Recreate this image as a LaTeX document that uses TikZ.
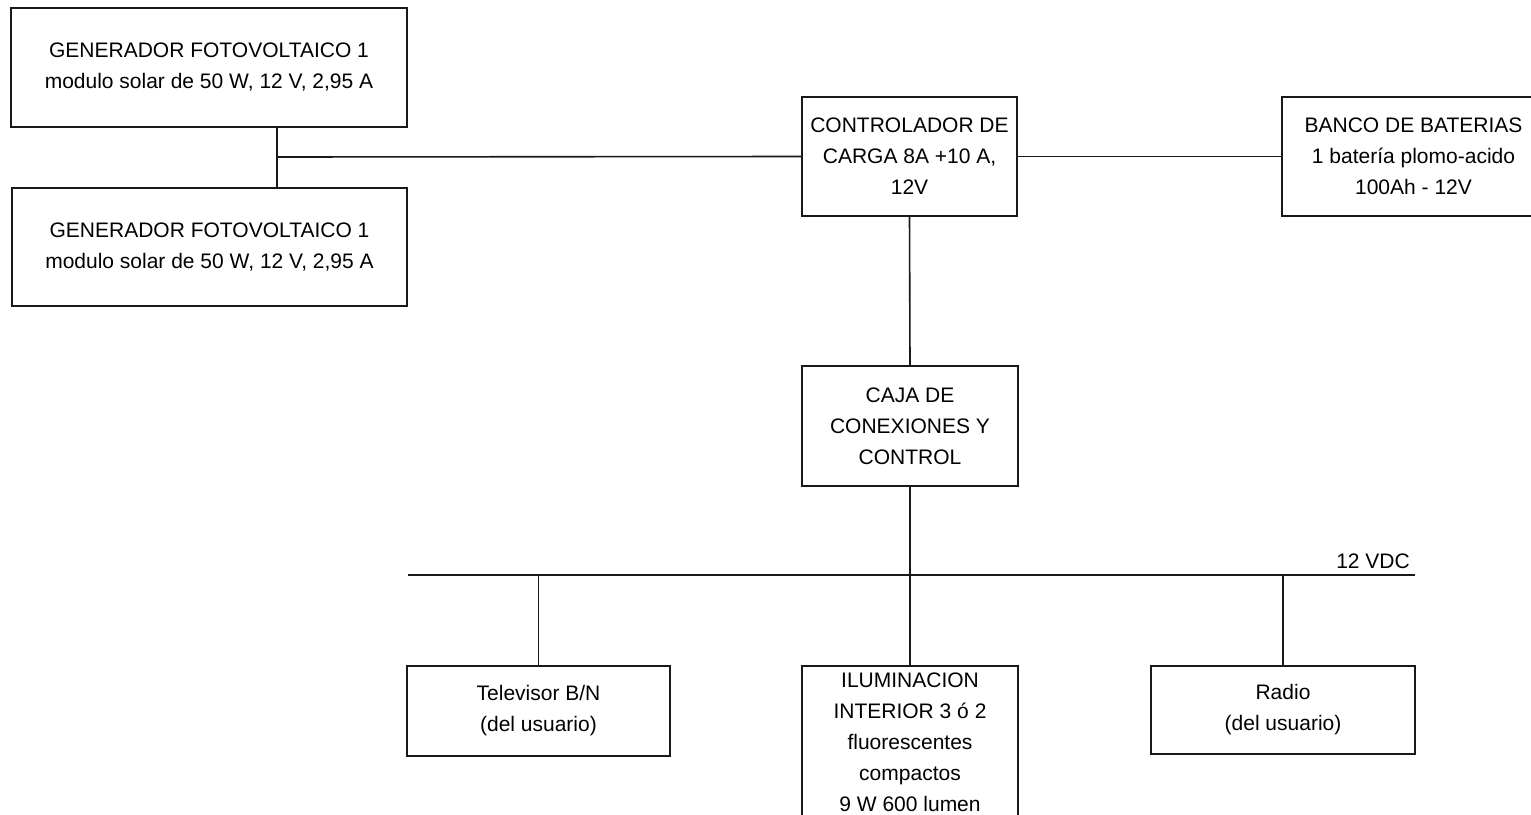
\documentclass[tikz,border=0pt]{standalone}
\usepackage{fontspec}
\setmainfont{Liberation Sans}
\begin{document}
\begin{tikzpicture}[x=1pt,y=-1pt,
  blk/.style={draw=black!90, line width=1.6pt, align=center, inner sep=0pt,
    font=\fontsize{21}{31}\selectfont},
  wire/.style={draw=black!90, line width=1.6pt}]
\clip (0,0) rectangle (1531,814);
\fill[white] (0,0) rectangle (1531,814);
% blocks
\node[blk, minimum width=396pt, minimum height=119pt] (gen1) at (209,67.5)
  {GENERADOR FOTOVOLTAICO 1\\modulo solar de 50 W, 12 V, 2,95 A};
\node[blk, minimum width=395pt, minimum height=118pt] (gen2) at (209.5,247)
  {GENERADOR FOTOVOLTAICO 1\\modulo solar de 50 W, 12 V, 2,95 A};
\node[blk, minimum width=215pt, minimum height=119pt] (ctrl) at (909.5,156.5)
  {CONTROLADOR DE\\CARGA 8A +10 A,\\12V};
\node[blk, minimum width=263pt, minimum height=119pt] (bat) at (1413.5,156.5)
  {BANCO DE BATERIAS\\1 batería plomo-acido\\100Ah - 12V};
\node[blk, minimum width=216pt, minimum height=120pt] (caja) at (910,426)
  {CAJA DE\\CONEXIONES Y\\CONTROL};
\node[blk, minimum width=263pt, minimum height=90pt] (tv) at (538.5,711)
  {Televisor B/N\\(del usuario)};
\node[blk, minimum width=216pt, minimum height=152pt, anchor=north] (ilum) at (910,665)
  {ILUMINACION\\INTERIOR 3 ó 2\\fluorescentes\\compactos\\9 W 600 lumen};
\node[blk, minimum width=264pt, minimum height=88pt] (radio) at (1283,710)
  {Radio\\(del usuario)};
% bus and junctions
\coordinate (junc) at (277,157);
\coordinate (busL) at (408,575);
\coordinate (busR) at (1415,575);
\coordinate (busC) at (910,575);
\node[font=\fontsize{21}{31}\selectfont, anchor=base] (vdc) at (1373,568) {12 VDC};
% connectors
\draw[wire] (gen1.south -| junc) -- (gen2.north -| junc);
\draw[wire] (junc) -- (ctrl.west);
\draw[wire] (ctrl.east) -- (bat.west);
\draw[wire] (ctrl.south) -- (caja.north);
\draw[wire] (caja.south) -- (busC);
\draw[wire] (busL) -- (busR);
\draw[wire] (tv.north |- busL) -- (tv.north);
\draw[wire] (busC) -- (ilum.north);
\draw[wire] (radio.north |- busL) -- (radio.north);
\end{tikzpicture}
\end{document}
